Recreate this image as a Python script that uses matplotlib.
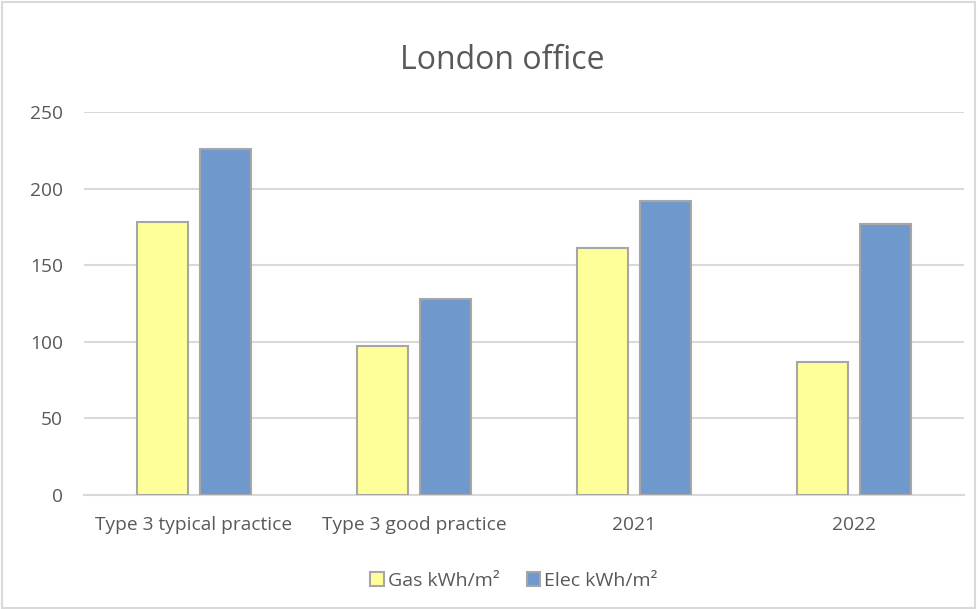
import numpy as np
import matplotlib.pyplot as plt
from matplotlib.patches import Rectangle

# chart data
categories = ['Type 3 typical practice', 'Type 3 good practice', '2021', '2022']
gas = [178, 97, 161, 87]
elec = [226, 128, 192, 177]
series_names = ['Gas kWh/m\u00b2', 'Elec kWh/m\u00b2']

plt.rcParams['font.family'] = ['Open Sans', 'DejaVu Sans']
txt = '#595959'

fig = plt.figure(figsize=(9.79, 6.09), dpi=100)
ax = fig.add_axes([0.0858, 0.1872, 0.8989, 0.6289])

x = np.arange(len(categories))
w = 0.232
off = 0.142
ax.bar(x - off, gas, w, color='#FFFF99', edgecolor='#A6A6A6', linewidth=1.5,
       label=series_names[0], zorder=3)
ax.bar(x + off, elec, w, color='#6F99CC', edgecolor='#A6A6A6', linewidth=1.5,
       label=series_names[1], zorder=3)

ax.set_xlim(-0.5, len(categories) - 0.5)
ax.set_ylim(0, 250)
ax.set_yticks(np.arange(0, 251, 50))
ax.yaxis.grid(True, color='#D9D9D9', linewidth=1.5, zorder=0)
ax.set_xticks(x)
ax.set_xticklabels(categories)
ax.tick_params(axis='both', length=0, labelsize=13.8, labelcolor=txt)
ax.tick_params(axis='x', pad=15)
ax.tick_params(axis='y', pad=15)
for s in ['top', 'right', 'left']:
    ax.spines[s].set_visible(False)
ax.spines['bottom'].set_color('#D9D9D9')
ax.spines['bottom'].set_linewidth(1.5)

fig.text(0.513, 0.9, 'London office', ha='center', va='center', fontsize=23, color=txt)

leg = fig.legend(loc='center', bbox_to_anchor=(0.525, 0.046), ncol=2, frameon=False,
                 fontsize=14, handlelength=0.7, handleheight=0.7, handletextpad=0.2,
                 columnspacing=1.4, labelcolor=txt)

fig.patches.append(Rectangle((0.002, 0.002), 0.994, 0.994, transform=fig.transFigure,
                             fill=False, edgecolor='#D9D9D9', linewidth=1.5))

fig.savefig('out.png', dpi=100)
